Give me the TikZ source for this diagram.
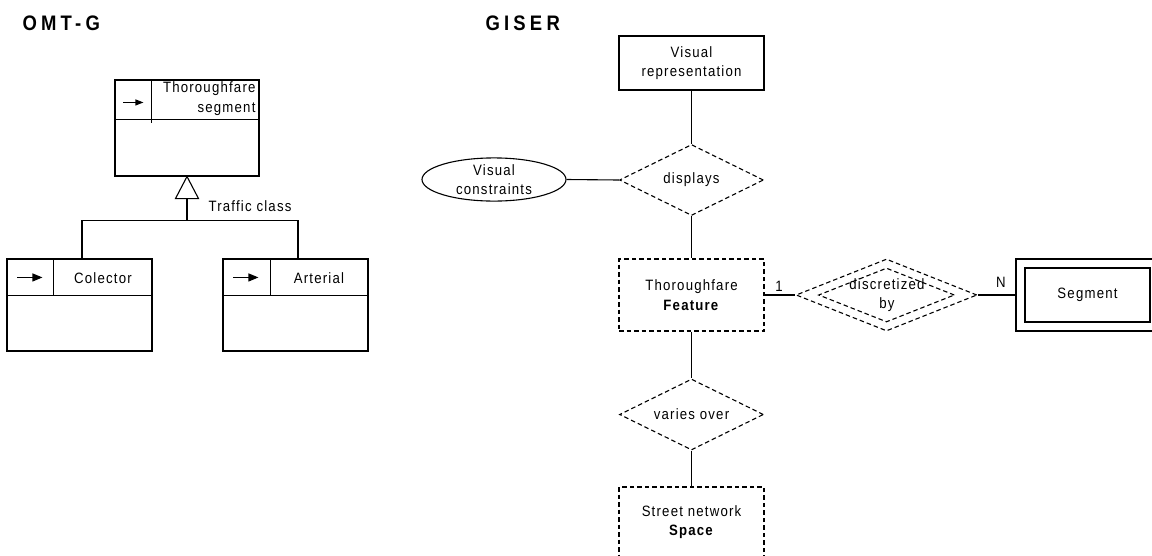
\documentclass[tikz,border=0pt]{standalone}
\usepackage{fontspec}
\setmainfont{Liberation Sans}[FakeStretch=0.88,LetterSpace=8]
\usetikzlibrary{shapes.geometric,arrows.meta,calc}
\begin{document}
\begin{tikzpicture}[x=1pt,y=-1pt,line width=1.1pt,
  every node/.style={font=\fontsize{15}{19.5}\selectfont,inner sep=0pt},
  title/.style={font=\fontsize{21}{24}\selectfont\bfseries\addfontfeatures{LetterSpace=20},anchor=base west},
  dsh/.style={dash pattern=on 4.5pt off 3pt},
  clsbox/.style={draw,rectangle,minimum width=145pt,minimum height=92pt},
  entbox/.style={draw,rectangle,minimum width=145pt},
  rel/.style={draw,diamond,dsh,minimum width=144pt,minimum height=71pt,aspect=2},
  attr/.style={draw,ellipse,minimum width=144pt,minimum height=40pt},
  ptr/.style={-{Triangle[length=10pt,width=8pt]}},
  lbl/.style={anchor=base}
]
\clip (0,0) rectangle (1152,555);

% ---------- OMT-G ----------
\node[title] (t1) at (22,30) {OMT-G};
\node[draw,rectangle,minimum width=144pt,minimum height=96pt] (ts) at (187,128) {};
\draw ($(ts.north west)+(0,40)$) -- ($(ts.north east)+(0,40)$);
\draw ($(ts.north west)+(37,0)$) -- ($(ts.north west)+(37,44)$);
\node[align=right,anchor=east] (tst) at (256,98.5) {Thoroughfare\\segment};
\draw[-{Triangle[length=8pt,width=6pt]}] ($(ts.north west)+(9,23)$) -- ($(ts.north west)+(29,23)$);

\draw (ts.south) -- ++(-11.5,22) -- ++(23,0) -- cycle;
\coordinate (tb) at ($(ts.south)+(0,22)$);
\coordinate (j) at ($(ts.south)+(0,44)$);
\node[anchor=base west] (tc) at (208,211) {Traffic class};

\node[clsbox] (col) at (79.5,305) {};
\draw ($(col.north west)+(0,37)$) -- ($(col.north east)+(0,37)$);
\draw ($(col.north west)+(47,0)$) -- ($(col.north west)+(47,37)$);
\draw[ptr] ($(col.north west)+(11,19)$) -- ($(col.north west)+(36,19)$);
\node (colt) at (103,278) {Colector};

\node[clsbox] (art) at (295.5,305) {};
\draw ($(art.north west)+(0,37)$) -- ($(art.north east)+(0,37)$);
\draw ($(art.north west)+(48,0)$) -- ($(art.north west)+(48,37)$);
\draw[ptr] ($(art.north west)+(11,19)$) -- ($(art.north west)+(36,19)$);
\node (artt) at (319,278) {Arterial};

\draw (tb) -- (j);
\draw (j) -| ([xshift=2.5pt]col.north);
\draw (j) -| ([xshift=2.5pt]art.north);

% ---------- GISER ----------
\node[title] (t2) at (485,30) {GISER};
\node[entbox,minimum height=54pt,align=center] (vr) at (691.5,63) {Visual\\representation};
\node[rel] (disp) at (691.5,180) {displays};
\node[attr,align=center] (vc) at (494,179.5) {Visual\\constraints};
\node[entbox,dsh,minimum height=72pt,align=center] (tf) at (691.5,295) {Thoroughfare\\\textbf{Feature}};
\node[draw,diamond,dsh,minimum width=181pt,minimum height=72pt] (disc) at (886.5,295) {};
\node[draw,diamond,dsh,minimum width=136pt,minimum height=54pt] (disci) at (886.5,295) {};
\node[align=center] (disct) at (887,295) {discretized\\by};
\node[draw,rectangle,minimum width=142pt,minimum height=72pt] (sego) at (1087,295) {};
\node[draw,rectangle,minimum width=125pt,minimum height=54pt] (seg) at (1087.5,295) {Segment};
\node[rel] (vo) at (691.5,414.5) {varies over};
\node[entbox,dsh,minimum height=70pt,align=center] (sn) at (691.5,522) {Street network\\\textbf{Space}};

\draw (vr.south) -- (disp.north);
\draw (vc.east) -- (disp.west);
\draw (disp.south) -- (tf.north);
\draw (tf.east) -- (disc.west);
\draw (disc.east) -- (sego.west);
\draw (tf.south) -- (vo.north);
\draw (vo.south) -- (sn.north);
\node[lbl] (one) at (779,291) {1};
\node[lbl] (n) at (1001,287) {N};
\end{tikzpicture}
\end{document}
